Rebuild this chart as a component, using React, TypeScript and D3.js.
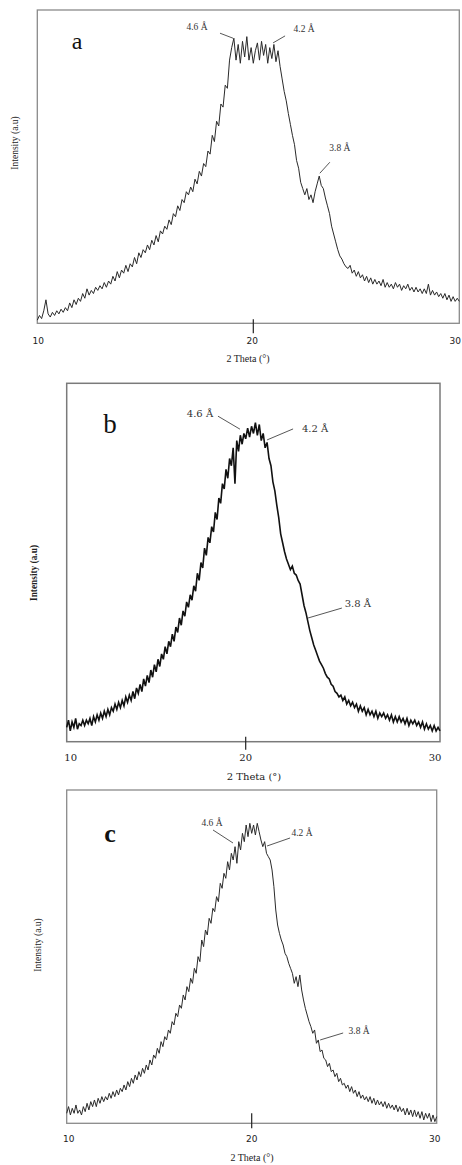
import React from "react";
import * as d3 from "d3";

// 2-theta grid: 10.0 .. 30.0 in 0.1° steps (201 points)
const thetaStart = 10;
const thetaStep = 0.1;

const intensityA = [
  1, 2.5, 1.5, 4, 7.5, 3, 2, 3.5, 2.5, 4,
  3, 4.5, 3.5, 5, 4, 6.5, 5, 7.5, 6, 8,
  7, 9.5, 8, 11, 9, 10.5, 9.5, 11.5, 10.5, 12,
  11, 13, 11.5, 13.5, 12.5, 15, 13.5, 16.5, 14.5, 17,
  16, 18.5, 16.5, 19, 18, 21, 19, 22.5, 21, 23.5,
  22.5, 25, 23.5, 26.5, 25, 28, 26, 29.5, 28.5, 31,
  30, 33, 31.5, 35, 34, 37.5, 36, 39.5, 38.5, 42,
  41, 43.5, 42, 46, 44.5, 48.5, 47, 51, 50, 55,
  54, 60, 58, 64.5, 63, 70, 69, 76, 75, 84,
  88, 91, 84, 89, 83, 90, 85, 91.5, 84, 88,
  83, 87, 89.5, 84, 90, 85.5, 89, 83, 88, 84.5,
  89, 83.5, 87, 82, 78, 74, 71, 67, 63.5, 60,
  57, 52, 49.5, 45, 43, 41, 43, 39.5, 41, 38.5,
  42, 44.5, 47, 44, 43, 40, 37.5, 35, 31, 28.5,
  26, 23.5, 21.5, 20.5, 19, 18, 17.5, 18.5, 16, 17,
  15, 16.5, 14.5, 15.5, 13.5, 15, 13, 14.5, 12.5, 14,
  12.5, 13.5, 12, 14, 11.5, 13, 11.5, 12.5, 11, 13,
  11.5, 12.5, 10.5, 12, 11, 12.5, 10.5, 11.5, 10, 11.5,
  10, 11, 9.5, 11, 9.5, 12.5, 9, 10.5, 9, 10,
  8.5, 9.5, 8, 9.5, 7.5, 9, 7, 8.5, 7, 8,
  7,
];

const intensityB = [
  4, 6, 3, 5.5, 4, 6.5, 3.5, 5, 4.5, 6,
  4.5, 6, 5, 6.5, 4.5, 7, 5.5, 7.5, 6, 8,
  6.5, 8.5, 7, 9, 7.5, 9.5, 8.5, 10.5, 9, 11,
  9.5, 11.5, 10, 12.5, 11, 13, 11.5, 14, 12, 15,
  13.5, 16, 14, 17.5, 15.5, 18.5, 16.5, 20, 18, 21.5,
  19.5, 23, 21, 24.5, 23, 26.5, 24.5, 28, 26.5, 30,
  28, 32, 30.5, 34.5, 32.5, 36.5, 35, 39, 37.5, 41,
  39.5, 43.5, 42, 47, 45, 50, 48.5, 54, 52, 57,
  55.5, 60, 58.5, 64, 62, 68, 66.5, 72, 70.5, 76,
  73.5, 79, 77, 82, 72, 84, 81, 85.5, 83, 86,
  84.5, 87.5, 85, 88, 86, 89, 85.5, 88.5, 84, 86,
  82, 83.5, 79, 77, 72.5, 70, 66, 62.5, 58, 55.5,
  53, 51, 49.5, 48, 49, 47, 46.5, 45, 44, 41,
  38, 36, 33.5, 31, 29, 27, 25.5, 24, 22.5, 21.5,
  20.5, 19, 18, 17.5, 16, 15.5, 14, 13.5, 12.5, 13,
  11.5, 12.5, 10.5, 11.5, 10, 11, 9.5, 10.5, 8.5, 10,
  8.5, 9.5, 7.5, 9, 7.5, 8.5, 7, 8.5, 6.5, 8,
  7, 8, 6.5, 7.5, 6, 7.5, 5.5, 7, 5.5, 7,
  5.5, 6.5, 5, 6.5, 4.5, 6, 5, 6, 4.5, 5.5,
  4, 5.5, 3.5, 5, 3.5, 4.5, 3, 4.5, 3, 4,
  3,
];

const intensityC = [
  3, 5, 2.5, 4.5, 3, 5.5, 3, 4, 2.5, 5,
  3.5, 6, 4, 6.5, 5, 7, 5, 7.5, 6, 8,
  6.5, 8, 7, 9, 7.5, 9.5, 8, 10, 8.5, 10.5,
  9.5, 11.5, 10, 12.5, 11, 13.5, 12, 14.5, 13, 15.5,
  14, 16.5, 15, 17.5, 16, 19, 17.5, 20.5, 19.5, 22.5,
  21, 24.5, 23, 26, 25, 28, 27, 30.5, 29.5, 33,
  32, 35.5, 34.5, 38.5, 37, 41, 39.5, 43.5, 42, 46.5,
  45, 50, 48.5, 55, 53, 58, 56.5, 61.5, 60, 64.5,
  63.5, 68, 66.5, 72, 70.5, 75, 73.5, 78.5, 76, 81,
  79, 83, 78, 84.5, 82, 87, 84.5, 89.5, 86, 90,
  87, 89.5, 86.5, 90, 87.5, 85, 83, 84.5, 81, 80,
  79, 76, 71, 64, 59.5, 57, 55, 53.5, 51, 50,
  48, 46.5, 45, 42, 44, 41, 44.5, 40, 37, 34.5,
  32.5, 30.5, 29, 27, 28, 24, 25, 21.5, 22, 19.5,
  19, 17, 18, 15.5, 16, 14, 15, 12.5, 13.5, 11.5,
  12, 10.5, 11.5, 9.5, 11, 9, 10, 8, 9.5, 7.5,
  8.5, 7, 8, 6.5, 8, 6, 7.5, 5.5, 7, 5.5,
  6.5, 5, 6.5, 4.5, 6, 4.5, 5.5, 4, 5.5, 3.5,
  5, 3.5, 4.5, 2.5, 4.5, 2.5, 4, 2, 4, 2,
  3.5, 1.5, 3.5, 1, 3, 1.5, 3, 0.5, 2.5, 0.5,
  2,
];

const xTicks = [10, 20, 30];
const xTitle = "2 Theta (°)";
const yTitle = "Intensity (a.u)";
const panelLetters = ["a", "b", "c"];
const peakLabels = ["4.6 Å", "4.2 Å", "3.8 Å"];
// peak positions (2θ, intensity) for each panel
const peakThetaA = [19.06, 20.96, 23.23];
const peakIntA = [91, 89.5, 47.9];
const peakThetaB = [19.68, 21.1, 23.2];
const peakIntB = [87.2, 84.2, 34.5];
const peakThetaC = [18.99, 20.83, 23.7];
const peakIntC = [84.1, 83.2, 25];

type Panel = {
  data: number[];
  letter: string;
  xRange: number[];
  top: number;
  bottom: number;
  peakTheta: number[];
  peakInt: number[];
  lineOff: number[][];
  labelOff: number[][];
  tickFont: string;
  tickSize: number;
  tickY: number;
  tickDx: number[];
  tickMark: number[];
  titleFont: string;
  titleSize: number;
  titleWeight: number;
  titleX: number;
  titleY: number;
  yLabX: number;
  yLabY: number;
  yLabSize: number;
  yLabScale: number;
  yLabWeight: number;
  letterX: number;
  letterY: number;
  letterSize: number;
  letterWeight: number;
  annFont: string;
  annSize: number;
  curveColor: string;
  curveWidth: number;
  frameColor: string;
  frameWidth: number;
};

const panels: Panel[] = [
  {
    data: intensityA,
    letter: panelLetters[0],
    xRange: [37.3, 253.3, 459.3],
    top: 10,
    bottom: 323.3,
    peakTheta: peakThetaA,
    peakInt: peakIntA,
    lineOff: [[-13, -5], [12, -7], [10, -11]],
    labelOff: [[-36, -8], [31, -11], [20, -22]],
    tickFont: "'DejaVu Sans', sans-serif",
    tickSize: 9,
    tickY: 344,
    tickDx: [1, -1, -4],
    tickMark: [-4, 10],
    titleFont: "'Liberation Serif', serif",
    titleSize: 10,
    titleWeight: 400,
    titleX: 248,
    titleY: 362,
    yLabX: 18,
    yLabY: 143,
    yLabSize: 9.5,
    yLabScale: 1,
    yLabWeight: 400,
    letterX: 77,
    letterY: 49,
    letterSize: 24,
    letterWeight: 400,
    annFont: "'Liberation Serif', serif",
    annSize: 9.5,
    curveColor: "#2a2a2a",
    curveWidth: 1,
    frameColor: "#8a8a8a",
    frameWidth: 1.3,
  },
  {
    data: intensityB,
    letter: panelLetters[1],
    xRange: [66.7, 245.7, 440],
    top: 383.3,
    bottom: 741.7,
    peakTheta: peakThetaB,
    peakInt: peakIntB,
    lineOff: [[-22, -13], [26, -11], [34, -10]],
    labelOff: [[-40, -12], [48, -8], [50, -11]],
    tickFont: "'DejaVu Serif', serif",
    tickSize: 10,
    tickY: 760.5,
    tickDx: [4, 0, -5],
    tickMark: [-5, 8],
    titleFont: "'DejaVu Serif', serif",
    titleSize: 10,
    titleWeight: 400,
    titleX: 254,
    titleY: 780,
    yLabX: 37,
    yLabY: 573,
    yLabSize: 11,
    yLabScale: 0.85,
    yLabWeight: 700,
    letterX: 110,
    letterY: 433,
    letterSize: 27,
    letterWeight: 400,
    annFont: "'DejaVu Serif', serif",
    annSize: 10,
    curveColor: "#111",
    curveWidth: 1.6,
    frameColor: "#7a7a7a",
    frameWidth: 1.5,
  },
  {
    data: intensityC,
    letter: panelLetters[2],
    xRange: [66.7, 251.7, 436.7],
    top: 790,
    bottom: 1123.3,
    peakTheta: peakThetaC,
    peakInt: peakIntC,
    lineOff: [[-20, -13], [23, -8], [23, -7]],
    labelOff: [[-21, -17], [35, -10], [39, -6]],
    tickFont: "'DejaVu Sans', sans-serif",
    tickSize: 9,
    tickY: 1141.5,
    tickDx: [2, 0, -2],
    tickMark: [-10, 5],
    titleFont: "'Liberation Serif', serif",
    titleSize: 10,
    titleWeight: 400,
    titleX: 252,
    titleY: 1161,
    yLabX: 41,
    yLabY: 945,
    yLabSize: 9.5,
    yLabScale: 1,
    yLabWeight: 400,
    letterX: 110,
    letterY: 842,
    letterSize: 26,
    letterWeight: 700,
    annFont: "'Liberation Serif', serif",
    annSize: 9.5,
    curveColor: "#2a2a2a",
    curveWidth: 1,
    frameColor: "#8a8a8a",
    frameWidth: 1.3,
  },
];

function PanelView({ p }: { p: Panel }) {
  const x = d3.scaleLinear().domain(xTicks).range(p.xRange);
  const y = d3.scaleLinear().domain([0, 100]).range([p.bottom, p.top]);
  const pts = p.data.map((v, i) => [thetaStart + i * thetaStep, v] as [number, number]);
  const line = d3
    .line<[number, number]>()
    .x((d) => x(d[0]))
    .y((d) => y(d[1]));
  const x0 = p.xRange[0];
  const x1 = p.xRange[2];
  return (
    <g>
      <rect
        x={x0}
        y={p.top}
        width={x1 - x0}
        height={p.bottom - p.top}
        fill="none"
        stroke={p.frameColor}
        strokeWidth={p.frameWidth}
      />
      <path d={line(pts) || ""} fill="none" stroke={p.curveColor} strokeWidth={p.curveWidth} strokeLinejoin="miter" />
      <line
        x1={x(20)}
        x2={x(20)}
        y1={p.bottom + p.tickMark[0]}
        y2={p.bottom + p.tickMark[1]}
        stroke="#222"
        strokeWidth={1.2}
      />
      {xTicks.map((t, i) => (
        <text
          key={t}
          x={x(t) + p.tickDx[i]}
          y={p.tickY}
          textAnchor="middle"
          fontFamily={p.tickFont}
          fontSize={p.tickSize}
          fill="#222"
        >
          {t}
        </text>
      ))}
      <text
        x={p.titleX}
        y={p.titleY}
        textAnchor="middle"
        fontFamily={p.titleFont}
        fontSize={p.titleSize}
        fontWeight={p.titleWeight}
        fill="#222"
      >
        {xTitle}
      </text>
      <text
        transform={`translate(${p.yLabX},${p.yLabY}) rotate(-90) scale(${p.yLabScale},1)`}
        textAnchor="middle"
        fontFamily="'Liberation Serif', serif"
        fontSize={p.yLabSize}
        fontWeight={p.yLabWeight}
        fill="#222"
      >
        {yTitle}
      </text>
      <text
        x={p.letterX}
        y={p.letterY}
        textAnchor="middle"
        fontFamily="'Liberation Serif', serif"
        fontSize={p.letterSize}
        fontWeight={p.letterWeight}
        fill="#111"
      >
        {p.letter}
      </text>
      {peakLabels.map((lab, i) => {
        const tx = x(p.peakTheta[i]);
        const ty = y(p.peakInt[i]);
        return (
          <g key={lab}>
            <line
              x1={tx}
              y1={ty}
              x2={tx + p.lineOff[i][0]}
              y2={ty + p.lineOff[i][1]}
              stroke="#444"
              strokeWidth={0.9}
            />
            <text
              x={tx + p.labelOff[i][0]}
              y={ty + p.labelOff[i][1]}
              textAnchor="middle"
              fontFamily={p.annFont}
              fontSize={p.annSize}
              fill="#333"
            >
              {lab}
            </text>
          </g>
        );
      })}
    </g>
  );
}

export default function App() {
  return (
    <svg
      width={462}
      height={1165}
      style={{ position: "absolute", left: 0, top: 0, background: "#fff" }}
    >
      <rect width={462} height={1165} fill="#fff" />
      {panels.map((p) => (
        <PanelView key={p.letter} p={p} />
      ))}
    </svg>
  );
}
